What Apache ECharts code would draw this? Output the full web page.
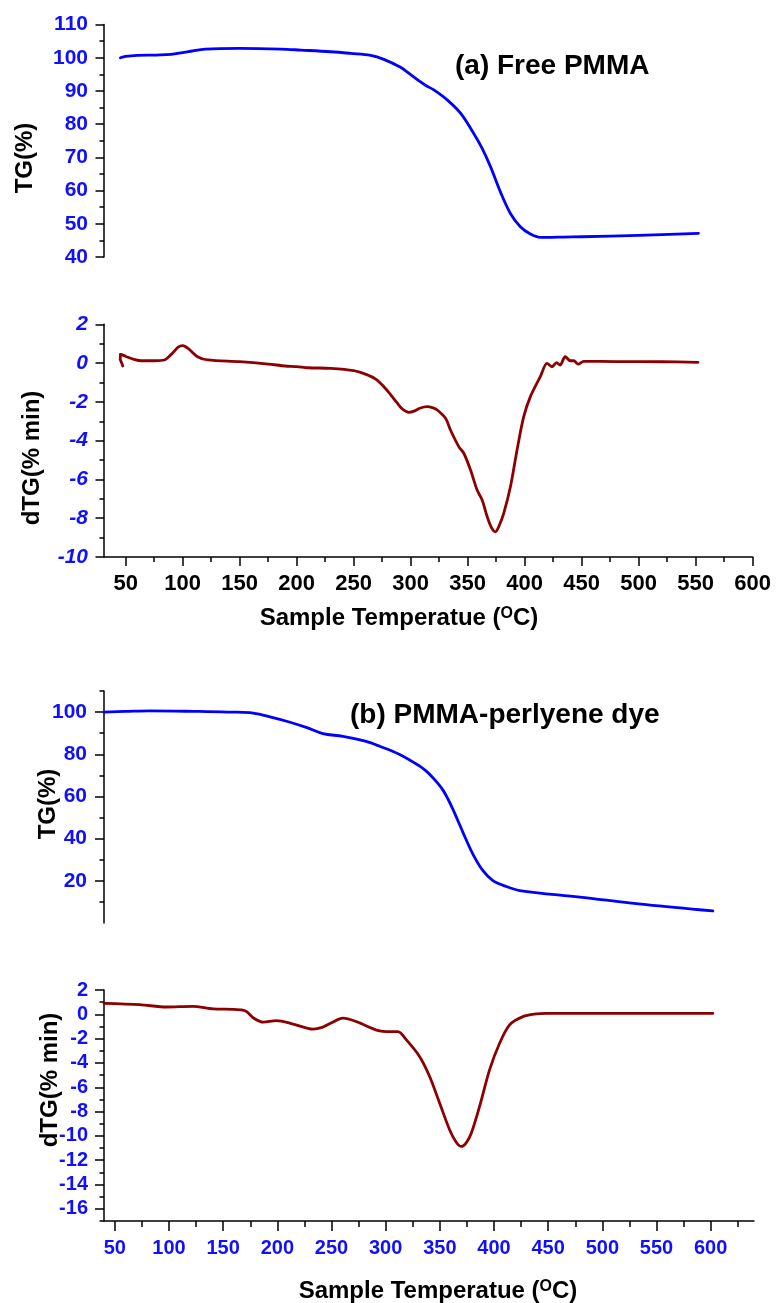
<!DOCTYPE html>
<html><head><meta charset="utf-8">
<script src="https://cdn.jsdelivr.net/npm/echarts@6.0.0/dist/echarts.min.js"></script>
<style>html,body{margin:0;padding:0;background:#fff}#c{width:776px;height:1303px}</style>
</head><body><div id="c"></div>
<script>
// ---------- DATA ----------
// (a) Free PMMA – TG
const tgA_T = [45.4,50,60,77,90,105,120,150,186,203.6,230,247.4,264.9,276.5,291.1,298,305.8,313,320.3,332,343.7,355.3,362.7,370,378.7,387.5,396.2,405,413.8,420,434,450,500,552.4];
const tgA_V = [100.0,100.4,100.7,100.8,101.0,101.8,102.6,102.8,102.6,102.3,101.8,101.3,100.7,99.5,97.1,95.4,93.4,91.7,90.3,87.3,83.3,77.2,72.7,67.2,59.6,53.1,49.1,46.9,45.9,45.9,46.0,46.1,46.5,47.1];
// (a) Free PMMA – dTG (first 4 points: the start-up hook)
const dtgA_T = [47.5,46,45.2,45.5,48,52,58,63.5,75,84,90,96,100,105,113,122,150,175,190,200,210,229.9,250,262,270,276.5,282,288.3,293,298.4,303,308,314.5,319,323.3,330.6,334.9,342.2,346.6,352.5,358.3,362.7,367.1,371,374.3,377.5,381.6,387.5,393.3,399.1,405,413.7,419.6,424,428,431,435.6,440,443,447,451.7,480,520,552];
const dtgA_V = [-0.15,-0.05,0.2,0.45,0.4,0.3,0.18,0.12,0.12,0.16,0.45,0.82,0.9,0.75,0.33,0.16,0.07,-0.05,-0.15,-0.18,-0.24,-0.27,-0.39,-0.61,-0.85,-1.22,-1.6,-2.07,-2.38,-2.54,-2.48,-2.33,-2.25,-2.3,-2.42,-2.85,-3.45,-4.31,-4.65,-5.51,-6.55,-7.06,-7.92,-8.5,-8.7,-8.4,-7.75,-6.38,-4.48,-2.77,-1.73,-0.7,-0.01,-0.19,0.02,-0.1,0.33,0.12,0.12,-0.05,0.09,0.08,0.07,0.04];
// (b) PMMA-perlyene dye – TG
const tgB_T = [40,60,82,128,159,177.6,195,211,228,242,260.5,282,294.5,312.9,331.4,337.5,343.6,348,352.9,357.5,362.1,366.7,371.3,380.5,389.8,399,411.3,423.6,479,540.5,602];
const tgB_V = [100,100.3,100.6,100.3,100,99.5,97.5,95.3,92.5,89.8,88.5,86.1,83.8,79.9,74.4,72.0,68.9,66.3,63.0,58.8,53.9,48.5,43.0,32.7,24.8,20.1,17.3,15.4,12.3,8.7,5.7];
// (b) PMMA-perlyene dye – dTG
const dtgB_T = [40,73,97.7,122,140.7,159,168,172,178,187,199,214.5,233,242,250,260.5,273,288,294.5,300.6,311.3,319.1,331.4,340.6,349.8,359,365,369.8,374.5,379.1,386.7,395.9,405.2,414.4,426.7,439,448,602];
const dtgB_V = [0.9,0.79,0.6,0.66,0.44,0.41,0.35,0.2,-0.3,-0.65,-0.52,-0.8,-1.22,-1.05,-0.7,-0.32,-0.6,-1.18,-1.37,-1.42,-1.42,-2.1,-3.48,-5.12,-7.3,-9.49,-10.5,-10.87,-10.55,-9.77,-7.58,-4.57,-2.38,-0.87,-0.19,0.03,0.08,0.08];

// ---------- TICKS ----------
const xTicksA = [50,100,150,200,250,300,350,400,450,500,550,600];
const xMinorA = [75,125,175,225,275,325,375,425,475,525,575];
const xTicksB = [50,100,150,200,250,300,350,400,450,500,550,600];
const xMinorB = [75,125,175,225,275,325,375,425,475,525,575,625];
const yTicksA1 = [40,50,60,70,80,90,100,110];
const yMinorA1 = [45,55,65,75,85,95,105];
const yTicksA2 = [-10,-8,-6,-4,-2,0,2];
const yMinorA2 = [-9,-7,-5,-3,-1,1];
const yTicksB1 = [20,40,60,80,100];
const yMinorB1 = [10,30,50,70,90,110];
const yTicksB2 = [-16,-14,-12,-10,-8,-6,-4,-2,0,2];
const yMinorB2 = [-17,-15,-13,-11,-9,-7,-5,-3,-1,1];

// ---------- CHART ----------
const FONT = '"Liberation Sans", Arial, Helvetica, sans-serif';
const BLUE = '#0000ff', RED = '#8b0000', LBL = '#1010ff';
const pairs = (a, b) => a.map((t, i) => [t, b[i]]);

const rects = [
  {left:104, top:24.5, width:648.7, height:232.5},
  {left:104, top:324.3, width:648.7, height:232.7},
  {left:104, top:691, width:650, height:232},
  {left:104, top:990, width:650, height:231}
];
const grid = rects.concat(rects).map(r => Object.assign({outerBoundsMode:'none', containLabel:false}, r));

function axis(kind, gi, min, max, o) {
  return {
    type:'value', gridIndex:gi, min, max, show: o.show !== false,
    position: kind === 'x' ? 'bottom' : 'left',
    axisLine:{show: !!o.line, onZero:false, lineStyle:{color:'#000', width:1.5}},
    axisTick:{show:true, customValues:o.ticks, length:o.len, lineStyle:{color:'#000', width:1.5}},
    axisLabel: o.label ? Object.assign({customValues:o.ticks, fontFamily:FONT, fontWeight:'bold', showMinLabel:true, showMaxLabel:true}, o.label) : {show:false},
    splitLine:{show:false}, minorTick:{show:false}
  };
}

const xAxis = [
  axis('x',0,31,600,{show:false, ticks:xTicksA, len:9}),
  axis('x',1,31,600,{line:true, ticks:xTicksA, len:9, label:{color:'#000', fontSize:22, margin:16}}),
  axis('x',2,40,640,{show:false, ticks:xTicksB, len:9}),
  axis('x',3,40,640,{line:true, ticks:xTicksB, len:10, label:{color:LBL, fontSize:20, margin:17}}),
  axis('x',4,31,600,{show:false, ticks:xMinorA, len:5}),
  axis('x',5,31,600,{ticks:xMinorA, len:5}),
  axis('x',6,40,640,{show:false, ticks:xMinorB, len:5}),
  axis('x',7,40,640,{ticks:xMinorB, len:6})
];
const yAxis = [
  axis('y',0,40,110,{line:true, ticks:yTicksA1, len:8.5, label:{color:LBL, fontSize:21, margin:16}}),
  axis('y',1,-10,2,{line:true, ticks:yTicksA2, len:8.5, label:{color:LBL, fontSize:21, margin:16, fontStyle:'italic'}}),
  axis('y',2,0,110,{line:true, ticks:yTicksB1, len:9, label:{color:LBL, fontSize:21, margin:17}}),
  axis('y',3,-17,2,{line:true, ticks:yTicksB2, len:9, label:{color:LBL, fontSize:20, margin:16}}),
  axis('y',4,40,110,{ticks:yMinorA1, len:4.5}),
  axis('y',5,-10,2,{ticks:yMinorA2, len:4.5}),
  axis('y',6,0,110,{ticks:yMinorB1, len:4.5}),
  axis('y',7,-17,2,{ticks:yMinorB2, len:4.5})
];

const line = (idx, data, color, smooth) => ({
  type:'line', xAxisIndex:idx, yAxisIndex:idx, data, showSymbol:false, symbol:'none',
  smooth: smooth, lineStyle:{color, width:2.8, join:'round', cap:'round'}, animation:false, silent:true
});

const dtgA = pairs(dtgA_T, dtgA_V);

const bold = (size) => 'bold ' + size + 'px ' + FONT;
function vText(text, x, y, size) {
  return {type:'text', x, y, rotation:Math.PI/2, style:{text, font:bold(size), fill:'#000', align:'center', verticalAlign:'middle'}};
}
function xName(x, y) {
  return {type:'text', x, y, style:{
    text:'Sample Temperatue ({s|O}C)', font:bold(24), fill:'#000', align:'center', verticalAlign:'middle',
    rich:{s:{fontSize:16, fontWeight:'bold', fontFamily:FONT, fill:'#000', verticalAlign:'top', lineHeight:14}}
  }};
}

const option = {
  backgroundColor:'#fff',
  animation:false,
  grid, xAxis, yAxis,
  series:[
    line(0, pairs(tgA_T, tgA_V), BLUE, 0.35),
    line(1, dtgA.slice(0, 4), RED, false),
    line(1, dtgA.slice(3), RED, 0.3),
    line(2, pairs(tgB_T, tgB_V), BLUE, 0.35),
    line(3, pairs(dtgB_T, dtgB_V), RED, 0.3)
  ],
  graphic:[
    {type:'text', x:455, y:66, style:{text:'(a) Free PMMA', font:bold(28), fill:'#000', align:'left', verticalAlign:'middle'}},
    {type:'text', x:350, y:715, style:{text:'(b) PMMA-perlyene dye', font:bold(28), fill:'#000', align:'left', verticalAlign:'middle'}},
    vText('TG(%)', 25, 158, 24),
    vText('dTG(% min)', 32, 458, 24),
    vText('TG(%)', 48, 804, 24),
    vText('dTG(% min)', 50, 1080, 24),
    xName(399, 618),
    xName(438, 1291)
  ]
};
const chart = echarts.init(document.getElementById('c'));
chart.setOption(option);
</script>
</body></html>
